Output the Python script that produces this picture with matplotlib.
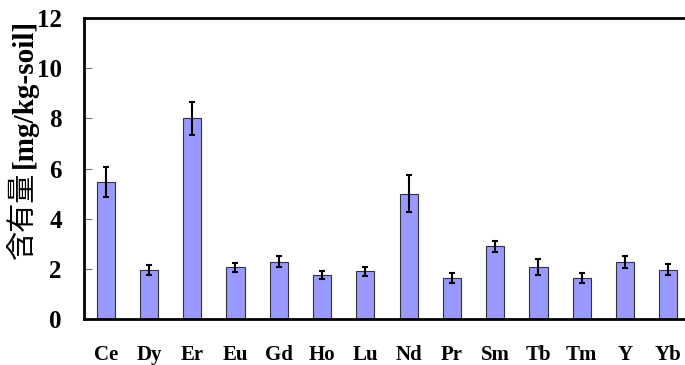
"""Rare earth content in soil - bar chart with error bars."""

import matplotlib
matplotlib.use("Agg")
import matplotlib.pyplot as plt
import numpy as np

elements = ["Ce", "Dy", "Er", "Eu", "Gd", "Ho", "Lu", "Nd", "Pr", "Sm", "Tb", "Tm", "Y", "Yb"]
content = [5.46, 1.95, 8.0, 2.07, 2.28, 1.75, 1.9, 5.0, 1.65, 2.9, 2.07, 1.65, 2.27, 1.96]
errors = [0.6, 0.2, 0.65, 0.18, 0.22, 0.15, 0.17, 0.73, 0.2, 0.22, 0.33, 0.2, 0.23, 0.22]
yticks = [0, 2, 4, 6, 8, 10, 12]

fig = plt.figure(figsize=(6.85, 3.65), dpi=100)
# axes run slightly past the right edge, as in the original crop
ax = fig.add_axes([84 / 685, 46 / 365, 606 / 685, 301 / 365])

x = np.arange(len(elements))
ax.bar(x, content, width=0.42, color="#9999FF", edgecolor="#333333", linewidth=0.8,
       yerr=errors, capsize=2.5, error_kw=dict(elinewidth=1.5, capthick=1.5, ecolor="black"))

ax.set_xlim(-0.5, len(elements) - 0.5)
ax.set_ylim(0, 12)
ax.set_yticks(yticks)
ax.set_xticks(x)
ax.set_xticklabels(elements)

for side in ["left", "bottom", "top", "right"]:
    ax.spines[side].set_linewidth(2)

ax.tick_params(axis="y", direction="in", length=6, width=0.8, color="#777777", pad=16)
ax.tick_params(axis="x", length=0, pad=19)
for lbl in ax.get_xticklabels():
    lbl.set_fontfamily("Liberation Serif")
    lbl.set_fontweight("bold")
    lbl.set_fontsize(15)
for lbl in ax.get_yticklabels():
    lbl.set_fontfamily("Liberation Serif")
    lbl.set_fontweight("bold")
    lbl.set_fontsize(18)

# y label: kanji part in regular weight, unit part bold serif, placed above axis centre
fig.text(23 / 685, 1 - 259 / 365, "含有量", rotation=90, ha="center", va="bottom",
         family="Noto Sans CJK JP", fontsize=21)
fig.text(24 / 685, 1 - 168 / 365, "[mg/kg-soil]", rotation=90, ha="center", va="bottom",
         family="Liberation Serif", fontweight="bold", fontsize=21)

fig.savefig("out.png", dpi=100)
